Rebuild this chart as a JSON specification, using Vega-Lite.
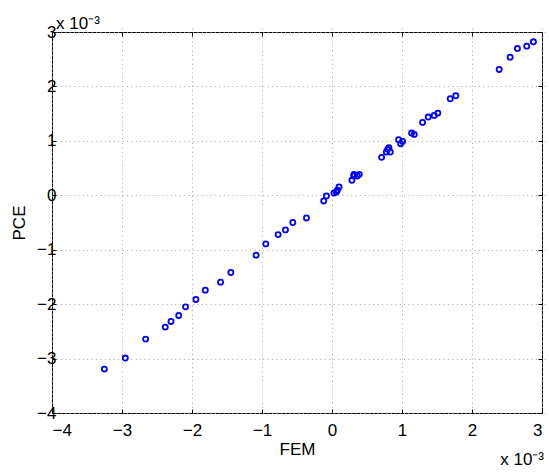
{
  "$schema": "https://vega.github.io/schema/vega-lite/v6.json",
  "width": 490,
  "height": 381,
  "autosize": {"type": "none"},
  "padding": {"left": 52, "top": 32, "right": 7, "bottom": 63},
  "background": "white",
  "config": {
    "font": "Liberation Sans",
    "view": {"stroke": "black", "strokeWidth": 1},
    "axis": {
      "labelFont": "Liberation Sans",
      "titleFont": "Liberation Sans",
      "labelFontSize": 17,
      "titleFontSize": 17,
      "titleFontWeight": "normal",
      "labelColor": "black",
      "titleColor": "black",
      "domain": false,
      "tickColor": "black",
      "ticks": true,
      "tickWidth": 1,
      "tickSize": 4,
      "offset": -4,
      "gridColor": "#a0a0a0",
      "gridDash": [1, 3.4],
      "gridOpacity": 1,
      "gridWidth": 1
    }
  },
  "title": {
    "text": "x 10⁻³",
    "anchor": "start",
    "frame": "group",
    "fontSize": 17,
    "fontWeight": "normal",
    "font": "Liberation Sans",
    "offset": -10,
    "dx": 4
  },
  "layer": [
    {
      "data": {
        "values": [
          {"FEM": -0.003252, "PCE": -0.003193},
          {"FEM": -0.002953, "PCE": -0.002990},
          {"FEM": -0.002662, "PCE": -0.002642},
          {"FEM": -0.002382, "PCE": -0.002422},
          {"FEM": -0.002300, "PCE": -0.002318},
          {"FEM": -0.002190, "PCE": -0.002208},
          {"FEM": -0.002092, "PCE": -0.002050},
          {"FEM": -0.001944, "PCE": -0.001914},
          {"FEM": -0.001810, "PCE": -0.001743},
          {"FEM": -0.001592, "PCE": -0.001596},
          {"FEM": -0.001445, "PCE": -0.001419},
          {"FEM": -0.001084, "PCE": -0.001100},
          {"FEM": -0.000946, "PCE": -0.000893},
          {"FEM": -0.000770, "PCE": -0.000722},
          {"FEM": -0.000665, "PCE": -0.000636},
          {"FEM": -0.000560, "PCE": -0.000500},
          {"FEM": -0.000365, "PCE": -0.000416},
          {"FEM": -0.000118, "PCE": -0.000104},
          {"FEM": -0.000080, "PCE": -0.000013},
          {"FEM": 0.000029, "PCE": 0.000042},
          {"FEM": 0.000063, "PCE": 0.000061},
          {"FEM": 0.000077, "PCE": 0.000092},
          {"FEM": 0.000100, "PCE": 0.000152},
          {"FEM": 0.000285, "PCE": 0.000275},
          {"FEM": 0.000310, "PCE": 0.000354},
          {"FEM": 0.000314, "PCE": 0.000385},
          {"FEM": 0.000362, "PCE": 0.000354},
          {"FEM": 0.000390, "PCE": 0.000385},
          {"FEM": 0.000709, "PCE": 0.000697},
          {"FEM": 0.000776, "PCE": 0.000795},
          {"FEM": 0.000795, "PCE": 0.000844},
          {"FEM": 0.000813, "PCE": 0.000875},
          {"FEM": 0.000833, "PCE": 0.000795},
          {"FEM": 0.000951, "PCE": 0.001022},
          {"FEM": 0.000980, "PCE": 0.000948},
          {"FEM": 0.001008, "PCE": 0.000990},
          {"FEM": 0.001137, "PCE": 0.001143},
          {"FEM": 0.001175, "PCE": 0.001119},
          {"FEM": 0.001294, "PCE": 0.001339},
          {"FEM": 0.001375, "PCE": 0.001437},
          {"FEM": 0.001460, "PCE": 0.001468},
          {"FEM": 0.001512, "PCE": 0.001510},
          {"FEM": 0.001689, "PCE": 0.001774},
          {"FEM": 0.001769, "PCE": 0.001829},
          {"FEM": 0.002388, "PCE": 0.002312},
          {"FEM": 0.002545, "PCE": 0.002538},
          {"FEM": 0.002649, "PCE": 0.002697},
          {"FEM": 0.002782, "PCE": 0.002740},
          {"FEM": 0.002877, "PCE": 0.002820}
        ]
      },
      "mark": {"type": "point", "shape": "circle", "filled": false, "color": "#0000ff", "size": 26, "strokeWidth": 1.8, "opacity": 1},
      "encoding": {
        "x": {
          "field": "FEM", "type": "quantitative",
          "scale": {"domain": [-0.004, 0.003], "nice": false, "zero": false},
          "axis": {
            "title": "FEM", "values": [-0.004, -0.003, -0.002, -0.001, 0, 0.001, 0.002, 0.003],
            "labelExpr": "format(datum.value*1000, 'd')",
            "labelPadding": 9, "titlePadding": 3, "grid": true
          }
        },
        "y": {
          "field": "PCE", "type": "quantitative",
          "scale": {"domain": [-0.004, 0.003], "nice": false, "zero": false},
          "axis": {
            "title": "PCE", "values": [-0.004, -0.003, -0.002, -0.001, 0, 0.001, 0.002, 0.003],
            "labelExpr": "format(datum.value*1000, 'd')",
            "labelPadding": -4, "titlePadding": 8, "grid": true
          }
        }
      }
    },
    {
      "data": {"values": [{"label": "x 10⁻³"}]},
      "mark": {"type": "text", "fontSize": 17, "font": "Liberation Sans", "align": "right", "baseline": "middle", "dx": 2, "dy": 47, "color": "black"},
      "encoding": {
        "text": {"field": "label"},
        "x": {"datum": 0.003, "type": "quantitative", "axis": {"orient": "top", "title": null, "labels": false, "grid": false, "values": [-0.004, -0.003, -0.002, -0.001, 0, 0.001, 0.002, 0.003]}},
        "y": {"datum": -0.004, "type": "quantitative", "axis": {"orient": "right", "title": null, "labels": false, "grid": false, "values": [-0.004, -0.003, -0.002, -0.001, 0, 0.001, 0.002, 0.003]}}
      }
    }
  ],
  "resolve": {"axis": {"x": "independent", "y": "independent"}}
}
